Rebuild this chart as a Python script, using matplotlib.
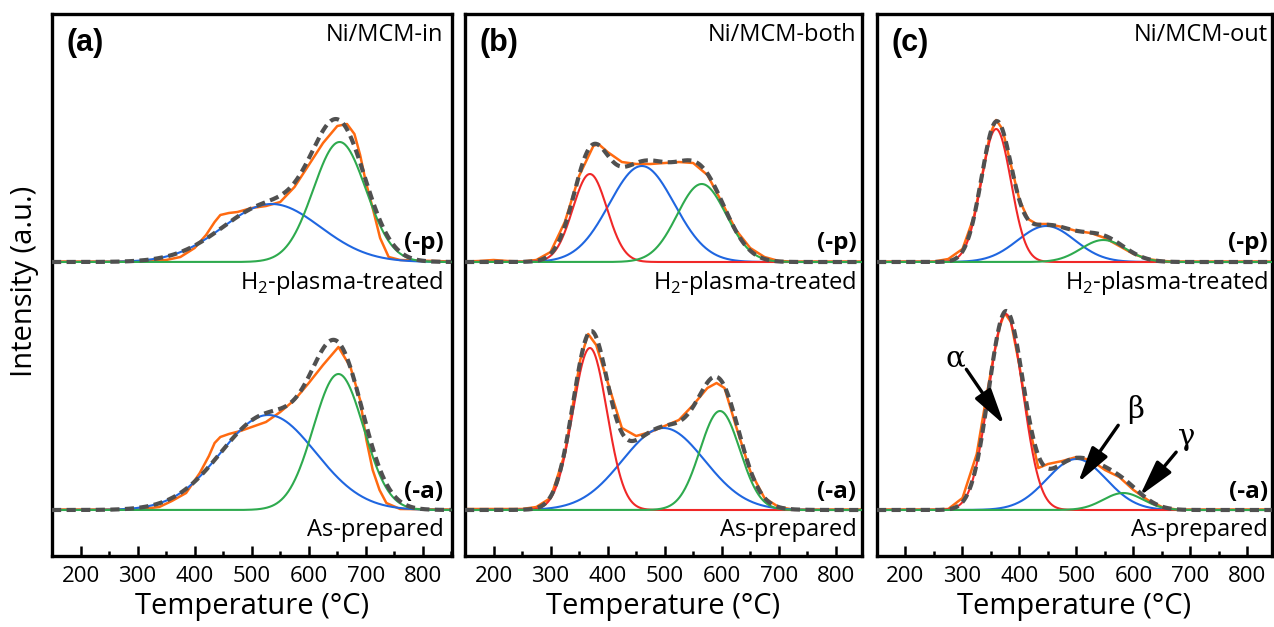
import numpy as np
import matplotlib
matplotlib.use('Agg')
import matplotlib.pyplot as plt
import matplotlib.transforms as mtransforms
from matplotlib.ticker import MultipleLocator

plt.rcParams['font.family'] = ['Open Sans', 'DejaVu Sans']
plt.rcParams['mathtext.fontset'] = 'custom'
plt.rcParams['mathtext.rm'] = 'Open Sans'

# ---- data (intensity in a.u., baseline = 0) ----
# measured TPR traces (orange)
a_p_T = [150, 300, 325, 350, 375, 400, 420, 435, 445, 460, 475, 500, 525, 550, 575, 600, 625, 650, 667, 680, 690, 700, 712, 725, 740, 760, 850]
a_p_I = [0.5, 0.5, 1, 2, 5, 14, 27, 40, 47, 49, 50, 54, 56, 60, 75, 97, 119, 136, 138, 128, 107, 80, 54, 24, 5, 2, 0.5]
a_a_T = [150, 300, 338, 360, 385, 409, 425, 435, 445, 460, 480, 500, 525, 550, 575, 600, 625, 652, 673, 690, 701, 712, 724, 736, 760, 850]
a_a_I = [0.5, 0.5, 3, 9, 17, 37, 54, 67, 73, 76, 79, 83, 88, 98, 110, 127, 145, 163, 143, 110, 70, 40, 20, 7, 1, 0.5]

b_p_T = [150, 175, 200, 225, 250, 275, 300, 325, 350, 375, 384, 400, 425, 450, 475, 500, 525, 550, 575, 600, 625, 650, 675, 700, 725, 850]
b_p_I = [0.5, 1, 2, 1, 0.5, 2, 10, 40, 86, 116, 118, 110, 100, 98, 98, 99, 100, 99, 87, 60, 32, 14, 5, 1, 0.5, 0.5]
b_a_T = [150, 200, 250, 275, 300, 325, 340, 352, 366, 380, 400, 425, 450, 475, 500, 525, 550, 575, 591, 605, 625, 650, 675, 700, 725, 850]
b_a_I = [1, 1, 1, 3, 12, 56, 108, 150, 176, 165, 128, 82, 74, 78, 84, 90, 105, 122, 127, 122, 84, 39, 12, 3, 0.5, 0.5]

c_p_T = [150, 250, 275, 300, 320, 335, 348, 359, 370, 385, 400, 415, 430, 450, 475, 500, 525, 550, 575, 600, 625, 650, 675, 850]
c_p_I = [0.5, 0.5, 3, 13, 45, 88, 127, 142, 133, 97, 62, 43, 38, 38, 35, 31, 29, 24, 16, 8, 3, 1, 0.5, 0.5]
c_a_T = [150, 250, 275, 300, 325, 340, 355, 365, 374, 385, 400, 415, 433, 450, 475, 500, 525, 550, 575, 600, 625, 650, 675, 850]
c_a_I = [0.5, 0.5, 1, 12, 56, 107, 155, 183, 197, 188, 144, 90, 42, 46, 49, 53, 50, 40, 33, 20, 10, 3, 0.5, 0.5]

# fitted gaussian peaks: (centre T, height, sigma)
a_p_peaks = {'beta': (535, 58, 85), 'gamma': (654, 120, 46)}
a_a_peaks = {'beta': (529, 95, 83), 'gamma': (652, 136, 44)}
b_p_peaks = {'alpha': (369, 88, 30), 'beta': (460, 96, 57), 'gamma': (565, 78, 43)}
b_a_peaks = {'alpha': (369, 162, 30), 'beta': (498, 82, 72), 'gamma': (597, 99, 35)}
c_p_peaks = {'alpha': (359, 133, 26), 'beta': (447, 36, 50), 'gamma': (547, 22, 39)}
c_a_peaks = {'alpha': (376, 196, 30), 'beta': (500, 51, 52), 'gamma': (582, 17, 35)}

samples = ['Ni/MCM-in', 'Ni/MCM-both', 'Ni/MCM-out']
letters = ['(a)', '(b)', '(c)']
x_ticks = [200, 300, 400, 500, 600, 700, 800]

# ---- styling ----
peak_colors = {'alpha': '#f02828', 'beta': '#1f66e0', 'gamma': '#2eaa4e'}
orange = '#ff6a10'
dash_color = '#505050'
offset = 248


def gauss(x, c, h, s):
    return h * np.exp(-(x - c) ** 2 / (2.0 * s ** 2))


fig = plt.figure(figsize=(12.74, 6.27), dpi=100)
W, H = 1274.0, 627.0
boxes = [(52, 452), (465, 862), (877, 1272)]
top_px, bot_px = 14, 556
xmaxs = [851, 846, 843]

panels = [
    [(a_p_T, a_p_I, a_p_peaks), (a_a_T, a_a_I, a_a_peaks)],
    [(b_p_T, b_p_I, b_p_peaks), (b_a_T, b_a_I, b_a_peaks)],
    [(c_p_T, c_p_I, c_p_peaks), (c_a_T, c_a_I, c_a_peaks)],
]

xf = np.linspace(150, 850, 701)
axes = []
for k in range(3):
    l, r = boxes[k]
    ax = fig.add_axes([l / W, 1 - bot_px / H, (r - l) / W, (bot_px - top_px) / H])
    axes.append(ax)

    for j, (T, I, peaks) in enumerate(panels[k]):
        off = offset if j == 0 else 0
        ax.plot(T, np.array(I) + off, color=orange, lw=1.8, zorder=2)
        total = np.zeros_like(xf)
        for name in ['beta', 'alpha', 'gamma']:
            if name in peaks:
                y = gauss(xf, *peaks[name])
                total += y
                ax.plot(xf, y + off, color=peak_colors[name], lw=1.5, zorder=3)
        ax.plot(xf, total + off, color=dash_color, lw=3.0, ls=(0, (2.2, 1.3)), zorder=4)

    ax.set_xlim(150, xmaxs[k])
    ax.set_ylim(-46, 496)
    ax.set_yticks([])
    ax.set_xticks(x_ticks)
    ax.xaxis.set_minor_locator(MultipleLocator(50))
    ax.tick_params(axis='x', which='major', direction='in', length=7, width=1.8,
                   labelsize=16, pad=7, top=False)
    ax.tick_params(axis='x', which='minor', direction='in', length=3.5, width=1.8, top=False)
    for sp in ax.spines.values():
        sp.set_linewidth(2.4)
    ax.set_xlabel('Temperature (°C)', fontsize=21, labelpad=4)

    tr = mtransforms.blended_transform_factory(ax.transData, ax.transAxes)
    ax.text(176, 0.946, letters[k], transform=tr, ha='left', va='center',
            fontsize=22, fontweight='bold', family=['Liberation Sans', 'DejaVu Sans'])
    ax.text(836, 0.961, samples[k], transform=tr, ha='right', va='center', fontsize=17)
    ax.text(836, 0.577, '(-p)', transform=tr, ha='right', va='center', fontsize=17.5, fontweight='bold')
    ax.text(836, 0.504, 'H$_2$-plasma-treated', transform=tr, ha='right', va='center', fontsize=17)
    ax.text(836, 0.118, '(-a)', transform=tr, ha='right', va='center', fontsize=17.5, fontweight='bold')
    ax.text(836, 0.048, 'As-prepared', transform=tr, ha='right', va='center', fontsize=17)

fig.text(25 / W, 1 - 281 / H, 'Intensity (a.u.)', rotation=90, ha='center', va='center', fontsize=21)

# peak labels in panel (c)
axc = axes[2]
greek = [('α', (287, 152), (304, 143), (376, 83)),
         ('β', (603, 100), (576, 87), (500, 25)),
         ('γ', (693, 73), (678, 60), (608, 12))]
for txt, tpos, a0, a1 in greek:
    axc.text(tpos[0], tpos[1], txt, ha='center', va='center', fontsize=21,
             family='DejaVu Serif', zorder=6)
    axc.annotate('', xy=a1, xytext=a0,
                 arrowprops=dict(arrowstyle='-|>,head_length=1.0,head_width=0.26', lw=2.4,
                                 color='black', mutation_scale=22),
                 zorder=6)

fig.savefig('out.png', dpi=100)
